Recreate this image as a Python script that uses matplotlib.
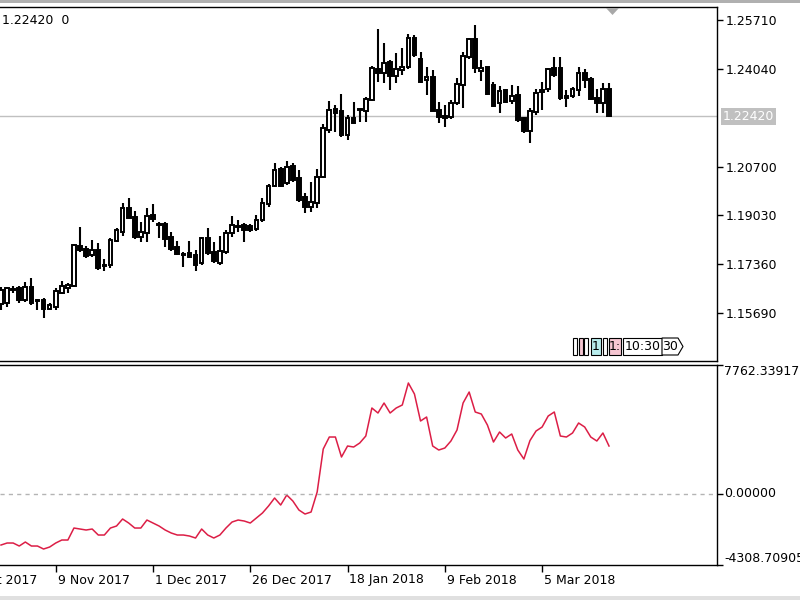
import matplotlib
matplotlib.use("Agg")
import matplotlib.pyplot as plt
import matplotlib.transforms as mtransforms
from matplotlib.patches import Rectangle, Polygon
import numpy as np

# daily EURUSD-like candles
opens = [1.1600, 1.1603, 1.1651, 1.1654, 1.1613, 1.1658, 1.1613, 1.1613, 1.1583, 1.1590,
         1.1637, 1.1654, 1.1661, 1.1798, 1.1788, 1.1767, 1.1784, 1.1733, 1.1733, 1.1815,
         1.1846, 1.1928, 1.1897, 1.1829, 1.1843, 1.1904, 1.1873, 1.1873, 1.1829, 1.1795,
         1.1771, 1.1774, 1.1767, 1.1740, 1.1825, 1.1778, 1.1740, 1.1778, 1.1843, 1.1867,
         1.1870, 1.1867, 1.1856, 1.1887, 1.1942, 1.2003, 1.2061, 1.2014, 1.2072, 1.2031,
         1.1966, 1.1932, 1.1945, 1.2034, 1.2195, 1.2267, 1.2260, 1.2178, 1.2236, 1.2267,
         1.2260, 1.2297, 1.2403, 1.2390, 1.2427, 1.2380, 1.2400, 1.2410, 1.2509, 1.2438,
         1.2366, 1.2376, 1.2263, 1.2243, 1.2239, 1.2287, 1.2349, 1.2445, 1.2506, 1.2397,
         1.2410, 1.2349, 1.2287, 1.2332, 1.2294, 1.2315, 1.2236, 1.2191, 1.2256, 1.2325,
         1.2335, 1.2407, 1.2407, 1.2311, 1.2311, 1.2332, 1.2390, 1.2369, 1.2304, 1.2287,
         1.2335]
highs = [1.1658, 1.1658, 1.1661, 1.1661, 1.1675, 1.1689, 1.1617, 1.1620, 1.1603, 1.1654,
         1.1678, 1.1672, 1.1805, 1.1863, 1.1798, 1.1819, 1.1808, 1.1754, 1.1825, 1.1860,
         1.1945, 1.1962, 1.1918, 1.1880, 1.1928, 1.1942, 1.1880, 1.1880, 1.1846, 1.1815,
         1.1778, 1.1815, 1.1784, 1.1829, 1.1860, 1.1812, 1.1832, 1.1853, 1.1901, 1.1887,
         1.1877, 1.1873, 1.1904, 1.1962, 1.2010, 1.2081, 1.2068, 1.2089, 1.2082, 1.2058,
         1.1979, 1.2017, 1.2061, 1.2215, 1.2294, 1.2280, 1.2318, 1.2246, 1.2291, 1.2267,
         1.2308, 1.2414, 1.2540, 1.2492, 1.2434, 1.2458, 1.2475, 1.2523, 1.2520, 1.2462,
         1.2410, 1.2400, 1.2291, 1.2280, 1.2297, 1.2373, 1.2462, 1.2509, 1.2554, 1.2434,
         1.2410, 1.2359, 1.2345, 1.2335, 1.2349, 1.2345, 1.2239, 1.2270, 1.2335, 1.2359,
         1.2407, 1.2445, 1.2445, 1.2332, 1.2342, 1.2410, 1.2403, 1.2376, 1.2335, 1.2355,
         1.2355]
lows = [1.1579, 1.1590, 1.1637, 1.1603, 1.1607, 1.1596, 1.1579, 1.1552, 1.1579, 1.1579,
        1.1634, 1.1637, 1.1658, 1.1778, 1.1757, 1.1761, 1.1716, 1.1713, 1.1723, 1.1812,
        1.1832, 1.1894, 1.1822, 1.1812, 1.1812, 1.1880, 1.1825, 1.1795, 1.1781, 1.1767,
        1.1726, 1.1757, 1.1713, 1.1733, 1.1767, 1.1740, 1.1733, 1.1771, 1.1829, 1.1846,
        1.1812, 1.1846, 1.1849, 1.1880, 1.1932, 1.2000, 1.2000, 1.2007, 1.2017, 1.1949,
        1.1911, 1.1914, 1.1928, 1.2031, 1.2185, 1.2188, 1.2171, 1.2161, 1.2219, 1.2222,
        1.2222, 1.2294, 1.2359, 1.2356, 1.2332, 1.2356, 1.2383, 1.2403, 1.2445, 1.2356,
        1.2315, 1.2260, 1.2219, 1.2205, 1.2232, 1.2280, 1.2270, 1.2438, 1.2390, 1.2362,
        1.2315, 1.2274, 1.2253, 1.2287, 1.2284, 1.2222, 1.2185, 1.2150, 1.2246, 1.2263,
        1.2325, 1.2376, 1.2297, 1.2274, 1.2304, 1.2311, 1.2338, 1.2297, 1.2253, 1.2253,
        1.2239]
closes = [1.1648, 1.1654, 1.1648, 1.1613, 1.1658, 1.1603, 1.1610, 1.1583, 1.1596, 1.1644,
          1.1661, 1.1665, 1.1802, 1.1784, 1.1764, 1.1784, 1.1723, 1.1730, 1.1819, 1.1853,
          1.1928, 1.1894, 1.1829, 1.1846, 1.1901, 1.1890, 1.1870, 1.1822, 1.1788, 1.1771,
          1.1767, 1.1761, 1.1733, 1.1825, 1.1774, 1.1747, 1.1781, 1.1843, 1.1870, 1.1863,
          1.1853, 1.1853, 1.1887, 1.1945, 1.2003, 1.2058, 1.2003, 1.2068, 1.2024, 1.1955,
          1.1932, 1.1949, 1.2034, 1.2202, 1.2263, 1.2253, 1.2178, 1.2236, 1.2219, 1.2263,
          1.2301, 1.2407, 1.2390, 1.2424, 1.2380, 1.2403, 1.2410, 1.2509, 1.2451, 1.2359,
          1.2376, 1.2260, 1.2239, 1.2236, 1.2287, 1.2352, 1.2448, 1.2506, 1.2407, 1.2407,
          1.2318, 1.2277, 1.2328, 1.2291, 1.2311, 1.2229, 1.2191, 1.2260, 1.2321, 1.2332,
          1.2403, 1.2383, 1.2304, 1.2304, 1.2335, 1.2390, 1.2366, 1.2301, 1.2287, 1.2335,
          1.2242]

# indicator in the lower window
osc = [-3103, -2982, -2982, -3163, -2922, -3163, -3163, -3344, -3224, -2982,
       -2801, -2801, -2077, -2137, -2197, -2137, -2499, -2499, -2077, -1956,
       -1533, -1775, -2077, -2077, -1594, -1775, -1956, -2197, -2378, -2499,
       -2499, -2560, -2680, -2137, -2499, -2680, -2499, -2077, -1715, -1594,
       -1654, -1775, -1473, -1171, -749, -266, -688, -85, -447, -990,
       -1232, -1111, 96, 2692, 3416, 3416, 2209, 2873, 2812, 3054,
       3476, 5167, 4865, 5468, 4865, 5167, 5348, 6676, 6012, 4382,
       4623, 2873, 2631, 2752, 3175, 3839, 5468, 6132, 4925, 4804,
       4140, 3114, 3718, 3356, 3597, 2631, 2088, 3200, 3778, 4020,
       4684, 4925, 3476, 3416, 3658, 4261, 4020, 3416, 3175, 3658,
       2873]

price_ticks = [1.25710, 1.24040, 1.20700, 1.19030, 1.17360, 1.15690]
last_price = 1.22420
osc_max = 7762.33917
osc_min = -4308.70905
date_labels = ["18 Oct 2017", "9 Nov 2017", "1 Dec 2017", "26 Dec 2017",
               "18 Jan 2018", "9 Feb 2018", "5 Mar 2018"]
date_bars = [-7, 9, 25, 41, 57, 73, 89]

W, H = 800, 600
fig = plt.figure(figsize=(8, 6), dpi=100)


def box(x0, y0, x1, y1):
    # pixel box (top-left origin) -> figure fraction rect
    return [x0 / W, 1 - y1 / H, (x1 - x0) / W, (y1 - y0) / H]


ax = fig.add_axes(box(0, 7, 717, 361))
ax2 = fig.add_axes(box(0, 365, 717, 565))

idx = np.arange(len(opens))
o = np.array(opens)
c = np.array(closes)
bull = c >= o

# wicks, then bodies
ax.vlines(idx, lows, highs, color="black", linewidth=1.5, zorder=2)
ax.bar(idx[bull], (c - o)[bull], bottom=o[bull], width=0.6,
       color="white", edgecolor="black", linewidth=1.4, zorder=3)
ax.bar(idx[~bull], (o - c)[~bull], bottom=c[~bull], width=0.6,
       color="black", edgecolor="black", linewidth=1.4, zorder=3)

ax.axhline(last_price, color="#c0c0c0", linewidth=1, zorder=1)

xlim = (-1 / 6.08, 716 / 6.08)
ax.set_xlim(xlim)
ax.set_ylim(1.14048, 1.26155)
ax.set_xticks([])
ax.yaxis.tick_right()
ax.set_yticks(price_ticks)
ax.set_yticklabels(["%.5f" % v for v in price_ticks])
ax.tick_params(axis="y", length=4, width=1, labelsize=9, pad=2, direction="out")

# current price tag on the scale
ax.text(1.0 + 6 / 717, last_price, "1.22420", transform=ax.get_yaxis_transform(),
        ha="left", va="center", fontsize=9, color="white",
        bbox=dict(boxstyle="square,pad=0.15", fc="#c0c0c0", ec="none"), clip_on=False)

ax.text(2 / 717, 1 - 13 / 354, "1.22420  0", transform=ax.transAxes,
        ha="left", va="center", fontsize=9, color="black")

for s in ["left"]:
    ax.spines[s].set_visible(False)
    ax2.spines[s].set_visible(False)
for a in (ax, ax2):
    for s in ["top", "right", "bottom"]:
        a.spines[s].set_linewidth(1)
        a.spines[s].set_color("black")

# lower window
ax2.plot(idx, osc, color="#dc1e46", linewidth=1.1)
ax2.axhline(0, color="#b4b4b4", linewidth=1, linestyle=(0, (3, 3)))
ax2.set_xlim(xlim)
ax2.set_ylim(osc_min, osc_max)
ax2.yaxis.tick_right()
ax2.set_yticks([osc_max, 0, osc_min])
ax2.set_yticklabels([])
ax2.tick_params(axis="y", length=4, width=1, direction="out")
yt = ax2.get_yaxis_transform()
ax2.text(1.0 + 7 / 717, osc_max, "%.5f" % osc_max, transform=yt, ha="left",
         va="top", fontsize=9, clip_on=False)
ax2.text(1.0 + 7 / 717, 0, "0.00000", transform=yt, ha="left",
         va="center", fontsize=9, clip_on=False)
ax2.text(1.0 + 7 / 717, osc_min, "%.5f" % osc_min, transform=yt, ha="left",
         va="bottom", fontsize=9, clip_on=False)

vis = [b for b in date_bars if xlim[0] <= b <= xlim[1]]
ax2.set_xticks(vis)
ax2.set_xticklabels([])
ax2.tick_params(axis="x", length=5, width=1, direction="out")
dt = mtransforms.blended_transform_factory(ax2.transData, fig.transFigure)
for b, lab in zip(date_bars, date_labels):
    ax2.text(b + 0.3, 1 - 580 / H, lab, transform=dt, ha="left", va="center",
             fontsize=9, clip_on=False)

# frame bits of the terminal window
ft = fig.transFigure
fig.patches.append(Rectangle((0, 1 - 3 / H), 1, 3 / H, transform=ft,
                             fc="#b0b0b0", ec="none"))
fig.patches.append(Rectangle((0, 0), 1, 4 / H, transform=ft,
                             fc="#e0e0e0", ec="none"))
fig.patches.append(Polygon([(606 / W, 1 - 8 / H), (619 / W, 1 - 8 / H),
                            (612.5 / W, 1 - 15 / H)], closed=True,
                           transform=ft, fc="#a8a8a8", ec="none"))

# event tags near the bottom of the price window
tags = [(573, 577, "white", ""), (579, 583, "#f6c6d2", ""), (584, 588, "white", ""),
        (591, 601, "#b8ecec", "1"), (603, 607, "white", ""), (609, 621, "#f6c6d2", "1:"),
        (623, 662, "white", "10:30")]
for x0, x1, col, t in tags:
    fig.patches.append(Rectangle((x0 / W, 1 - 355 / H), (x1 - x0) / W, 17 / H,
                                 transform=ft, fc=col, ec="black", lw=0.8))
    if t:
        fig.text((x0 + x1) / 2 / W, 1 - 347 / H, t, ha="center", va="center",
                 fontsize=9)
fig.patches.append(Polygon([(662 / W, 1 - 338 / H), (678 / W, 1 - 338 / H),
                            (683 / W, 1 - 346.5 / H), (678 / W, 1 - 355 / H),
                            (662 / W, 1 - 355 / H)], closed=True, transform=ft,
                           fc="white", ec="black", lw=0.8))
fig.text(670 / W, 1 - 347 / H, "30", ha="center", va="center", fontsize=9)

fig.savefig("out.png", dpi=100)
